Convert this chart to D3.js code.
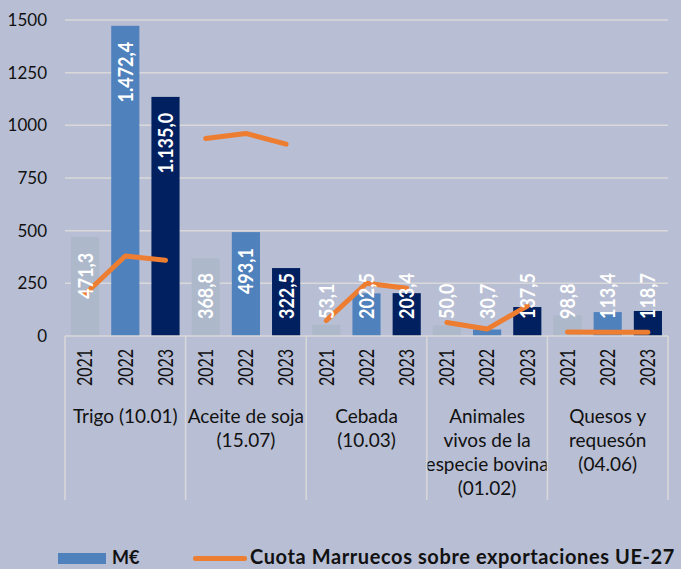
<!DOCTYPE html>
<html>
<head>
<meta charset="utf-8">
<script src="https://cdn.jsdelivr.net/npm/d3@7"></script>
<style>
  html, body { margin: 0; padding: 0; background: #b8bed3; }
  svg { display: block; font-family: Lato, "Open Sans", sans-serif; }
</style>
</head>
<body>
<svg width="681" height="569"></svg>
<script>
// data
var groups = ["Trigo", "Aceite", "Cebada", "Animales", "Quesos"];
var groupLabels = [
  ["Trigo (10.01)"],
  ["Aceite de soja", "(15.07)"],
  ["Cebada", "(10.03)"],
  ["Animales", "vivos de la", "especie bovina", "(01.02)"],
  ["Quesos y", "requesón", "(04.06)"]
];
var years = ["2021", "2022", "2023"];
var valores = [           // M€
  [471.3, 1472.4, 1135.0],
  [368.8, 493.1, 322.5],
  [53.1, 202.5, 203.4],
  [50.0, 30.7, 137.5],
  [98.8, 113.4, 118.7]
];
var cuota = [             // % (eje secundario, oculto)
  [13.3, 25.3, 24.0],
  [62.5, 64.1, 60.7],
  [4.9, 16.7, 15.1],
  [4.3, 2.2, 9.5],
  [1.3, 1.2, 1.2]
];
var yTicks = [0, 250, 500, 750, 1000, 1250, 1500];
var yearColors = ["#adb9cb", "#4f81bd", "#002060"];

var fmt = function(v){
  var s = v.toFixed(1).replace(".", ",");
  var p = s.split(",");
  return p[0].replace(/\B(?=(\d{3})+(?!\d))/g, ".") + "," + p[1];
};

var svg = d3.select("svg");
var plotLeft = 65, plotRight = 668, plotTop = 20, base = 336;

var x0 = d3.scaleBand().domain(groups).range([plotLeft, plotRight]).padding(0);
var x1 = d3.scaleBand().domain(years).range([0, x0.bandwidth()])
  .paddingInner(0.3).paddingOuter(0.15);
var y = d3.scaleLinear().domain([0, 1500]).range([base, plotTop]);
var y2 = d3.scaleLinear().domain([0, 100]).range([base, plotTop]);

// gridlines
svg.append("g").selectAll("line")
  .data(yTicks.slice(1))
  .enter().append("line")
  .attr("x1", plotLeft).attr("x2", plotRight)
  .attr("y1", function(d){ return y(d); })
  .attr("y2", function(d){ return y(d); })
  .attr("stroke", "#d9d9d9").attr("stroke-width", 1.5);

// y labels
svg.append("g").selectAll("text")
  .data(yTicks)
  .enter().append("text")
  .attr("x", 47)
  .attr("y", function(d){ return y(d); })
  .attr("dy", "0.35em")
  .attr("text-anchor", "end")
  .attr("font-size", 17)
  .attr("fill", "#111")
  .text(function(d){ return d; });

// bars
var g = svg.append("g").selectAll("g")
  .data(groups)
  .enter().append("g")
  .attr("transform", function(d){ return "translate(" + x0(d) + ",0)"; });

g.selectAll("rect")
  .data(function(d, i){ return valores[i].map(function(v, j){ return {year: years[j], v: v, j: j}; }); })
  .enter().append("rect")
  .attr("x", function(d){ return x1(d.year); })
  .attr("width", x1.bandwidth())
  .attr("y", function(d){ return y(d.v); })
  .attr("height", function(d){ return base - y(d.v); })
  .attr("fill", function(d){ return yearColors[d.j]; });

// category axis
var axis = svg.append("g").attr("stroke", "#d9d9d9").attr("stroke-width", 1.5);
axis.append("line").attr("x1", plotLeft).attr("x2", plotRight).attr("y1", base).attr("y2", base);
axis.selectAll(".sep")
  .data(groups.map(function(d){ return x0(d); }).concat([plotRight]))
  .enter().append("line")
  .attr("x1", function(d){ return d; }).attr("x2", function(d){ return d; })
  .attr("y1", base).attr("y2", 500);

// year labels
g.selectAll(".yr")
  .data(years)
  .enter().append("text")
  .attr("transform", function(d){
    return "translate(" + (x1(d) + x1.bandwidth()/2) + ",349) rotate(-90) scale(1,1.3)";
  })
  .attr("dy", "0.35em")
  .attr("text-anchor", "end")
  .attr("font-size", 16)
  .attr("fill", "#111")
  .text(function(d){ return d; });

// group labels
g.append("text")
  .attr("text-anchor", "middle")
  .attr("font-size", 19)
  .attr("fill", "#111")
  .selectAll("tspan")
  .data(function(d, i){ return groupLabels[i]; })
  .enter().append("tspan")
  .attr("x", x0.bandwidth()/2)
  .attr("y", function(d, i){ return 423 + i*24; })
  .text(function(d){ return d; });

// share line
var line = d3.line()
  .x(function(d, j){ return x1(years[j]) + x1.bandwidth()/2; })
  .y(function(d){ return y2(d); });

g.append("path")
  .attr("d", function(d, i){ return line(cuota[i]); })
  .attr("fill", "none")
  .attr("stroke", "#ed7d31")
  .attr("stroke-width", 5)
  .attr("stroke-linecap", "round")
  .attr("stroke-linejoin", "round");

// value labels
g.selectAll(".val")
  .data(function(d, i){ return valores[i].map(function(v, j){ return {year: years[j], v: v}; }); })
  .enter().append("text")
  .attr("class", "val")
  .attr("font-size", 18)
  .attr("font-weight", 700)
  .attr("fill", "#fff")
  .attr("dy", "0.35em")
  .text(function(d){ return fmt(d.v); })
  .attr("transform", function(d){
    var len = this.getComputedTextLength();
    var start = Math.min(y(d.v) + 16 + len, 319);
    return "translate(" + (x1(d.year) + x1.bandwidth()/2) + "," + start + ") rotate(-90) scale(1,1.2)";
  });

// legend
var lg = svg.append("g").attr("font-weight", 700).attr("fill", "#111");
lg.append("rect").attr("x", 58).attr("y", 553).attr("width", 48).attr("height", 11).attr("fill", "#4f81bd");
lg.append("text").attr("x", 112).attr("y", 564).attr("font-size", 18).text("M€");
lg.append("line").attr("x1", 195.5).attr("x2", 244.5).attr("y1", 558.5).attr("y2", 558.5)
  .attr("stroke", "#ed7d31").attr("stroke-width", 5).attr("stroke-linecap", "round");
lg.append("text").attr("x", 250).attr("y", 564).attr("font-size", 20).attr("letter-spacing", 0.6)
  .text("Cuota Marruecos sobre exportaciones UE-27");
</script>
</body>
</html>
